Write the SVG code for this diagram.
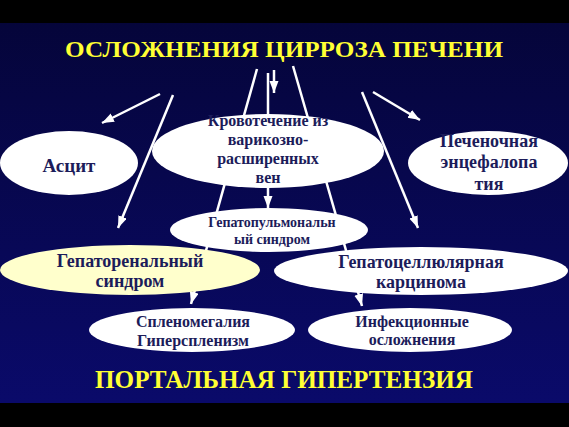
<svg xmlns="http://www.w3.org/2000/svg" width="569" height="427" viewBox="0 0 569 427">
<defs>
<linearGradient id="bg" x1="0" y1="0" x2="0" y2="1">
<stop offset="0" stop-color="#05053a"/>
<stop offset="1" stop-color="#0a0a6a"/>
</linearGradient>
<marker id="ah" markerUnits="userSpaceOnUse" markerWidth="13" markerHeight="10" refX="12" refY="4.5" orient="auto">
<path d="M0,0 L12,4.5 L0,9 z" fill="#ffffff"/>
</marker>
<style>
.ln{stroke:#ffffff;stroke-width:2.5;fill:none}
.ar{marker-end:url(#ah)}
.el{fill:#ffffff}
.t{font-family:'Liberation Serif','DejaVu Serif','Times New Roman',serif;font-weight:bold;fill:#1c1c5a;text-anchor:middle}
.h{font-family:'Liberation Serif','DejaVu Serif','Times New Roman',serif;font-weight:bold;fill:#ffff33;text-anchor:middle}
</style>
</defs>
<rect x="0" y="0" width="569" height="427" fill="#000000"/>
<rect x="0" y="23" width="569" height="380" fill="url(#bg)"/>
<text class="h" x="284" y="57" font-size="24" textLength="438" lengthAdjust="spacingAndGlyphs">ОСЛОЖНЕНИЯ ЦИРРОЗА ПЕЧЕНИ</text>
<g id="connectors">
<line class="ln ar" x1="160" y1="94" x2="102" y2="123"/>
<line class="ln ar" x1="173" y1="95" x2="118" y2="228"/>
<line class="ln ar" x1="257" y1="69" x2="191" y2="304"/>
<line class="ln ar" x1="268" y1="73" x2="268" y2="208"/>
<line class="ln ar" x1="274" y1="70" x2="274" y2="93"/>
<line class="ln ar" x1="293" y1="66" x2="362" y2="306"/>
<line class="ln ar" x1="362" y1="92" x2="418" y2="228"/>
<line class="ln ar" x1="373" y1="92" x2="420" y2="120"/>
</g>
<g id="ascit">
<ellipse class="el" cx="69" cy="163" rx="69" ry="32"/>
<text class="t" x="69" y="172" font-size="19">Асцит</text>
</g>
<g id="krovotechenie">
<ellipse class="el" cx="268" cy="151" rx="116" ry="37"/>
<text class="t" x="268" y="126" font-size="16">Кровотечение из</text>
<text class="t" x="268" y="145" font-size="16">варикозно-</text>
<text class="t" x="268" y="164" font-size="16">расширенных</text>
<text class="t" x="268" y="183" font-size="16">вен</text>
</g>
<g id="pechenochnaya">
<ellipse class="el" cx="488" cy="163" rx="80" ry="32"/>
<text class="t" x="489" y="147" font-size="18">Печеночная</text>
<text class="t" x="489" y="168" font-size="18">энцефалопа</text>
<text class="t" x="489" y="190" font-size="18">тия</text>
</g>
<g id="gepatopulm">
<ellipse class="el" cx="269" cy="230" rx="99" ry="22"/>
<text class="t" x="272" y="227" font-size="14">Гепатопульмональн</text>
<text class="t" x="272" y="244" font-size="14">ый синдром</text>
</g>
<g id="gepatorenal">
<ellipse cx="130" cy="270" rx="130" ry="25" fill="#ffffcc"/>
<text class="t" x="130" y="267" font-size="18">Гепаторенальный</text>
<text class="t" x="130" y="287" font-size="18">синдром</text>
</g>
<g id="gepatocell">
<ellipse class="el" cx="421" cy="271" rx="147" ry="24"/>
<text class="t" x="421" y="268" font-size="18">Гепатоцеллюлярная</text>
<text class="t" x="421" y="288" font-size="18">карцинома</text>
</g>
<g id="splenomegaly">
<ellipse class="el" cx="192" cy="330" rx="103" ry="22"/>
<text class="t" x="193" y="327" font-size="16">Спленомегалия</text>
<text class="t" x="193" y="346" font-size="16">Гиперспленизм</text>
</g>
<g id="infections">
<ellipse class="el" cx="410" cy="330" rx="102" ry="22"/>
<text class="t" x="412" y="327" font-size="16">Инфекционные</text>
<text class="t" x="412" y="345" font-size="16">осложнения</text>
</g>
<text class="h" x="284" y="388" font-size="26" textLength="378" lengthAdjust="spacingAndGlyphs">ПОРТАЛЬНАЯ ГИПЕРТЕНЗИЯ</text>
</svg>
